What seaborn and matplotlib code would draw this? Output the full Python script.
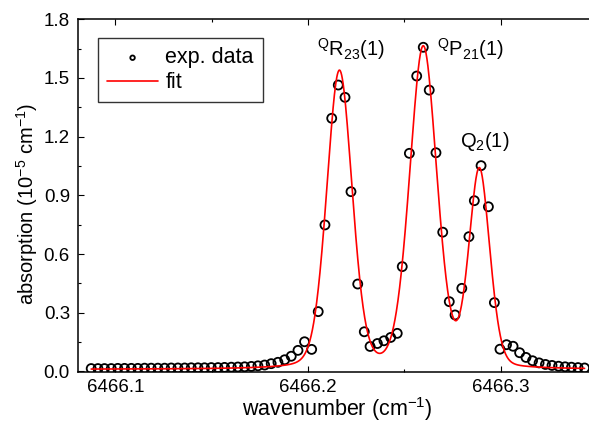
import numpy as np
import pandas as pd
import seaborn as sns
import matplotlib
matplotlib.use("Agg")
import matplotlib.pyplot as plt
from matplotlib.ticker import MultipleLocator, FormatStrFormatter

# Measured spectrum (wavenumber in cm^-1, absorption in 1e-5 cm^-1)
wavenumber = [
    6466.0875, 6466.0910, 6466.0944, 6466.0979, 6466.1013, 6466.1048, 6466.1083,
    6466.1117, 6466.1152, 6466.1186, 6466.1221, 6466.1256, 6466.1290, 6466.1325,
    6466.1360, 6466.1394, 6466.1429, 6466.1463, 6466.1498, 6466.1533, 6466.1567,
    6466.1602, 6466.1636, 6466.1671, 6466.1706, 6466.1740, 6466.1775, 6466.1809,
    6466.1844, 6466.1879, 6466.1913, 6466.1948, 6466.1982,
    6466.2019, 6466.2053, 6466.2088, 6466.2123, 6466.2157, 6466.2192, 6466.2223,
    6466.2258, 6466.2292, 6466.2322, 6466.2360, 6466.2394, 6466.2429, 6466.2463,
    6466.2489, 6466.2526, 6466.2564, 6466.2598, 6466.2629, 6466.2664, 6466.2699,
    6466.2733, 6466.2763, 6466.2798, 6466.2835, 6466.2863, 6466.2898, 6466.2936,
    6466.2967,
    6466.2996, 6466.3030, 6466.3064, 6466.3098, 6466.3131, 6466.3165, 6466.3199,
    6466.3232, 6466.3266, 6466.3300, 6466.3334, 6466.3367, 6466.3401, 6466.3435,
]
absorption = [
    0.015, 0.015, 0.015, 0.015, 0.016, 0.016, 0.016,
    0.016, 0.017, 0.017, 0.017, 0.017, 0.018, 0.018,
    0.018, 0.019, 0.019, 0.019, 0.020, 0.020, 0.021,
    0.022, 0.023, 0.024, 0.026, 0.029, 0.033, 0.040,
    0.047, 0.060, 0.078, 0.108, 0.152,
    0.113, 0.306, 0.749, 1.294, 1.464, 1.401, 0.919,
    0.447, 0.203, 0.128, 0.143, 0.157, 0.174, 0.195,
    0.536, 1.115, 1.510, 1.657, 1.438, 1.118, 0.712,
    0.357, 0.289, 0.425, 0.689, 0.873, 1.052, 0.842,
    0.352,
    0.114, 0.137, 0.129, 0.096, 0.072, 0.055, 0.044,
    0.036, 0.031, 0.027, 0.024, 0.022, 0.020, 0.018,
]

# Fitted model: three lines, each a Gaussian/Lorentzian mix, on a flat baseline
line_labels = [
    r"$^{\mathregular{Q}}$R$_{\mathregular{23}}$(1)",
    r"$^{\mathregular{Q}}$P$_{\mathregular{21}}$(1)",
    r"Q$_{\mathregular{2}}$(1)",
]
line_center = [6466.2163, 6466.2598, 6466.2889]
line_amp = [1.52, 1.64, 1.01]
line_sigma = [0.0067, 0.0073, 0.0056]
line_gamma = [0.0070, 0.0070, 0.0052]
lorentz_frac = 0.2
fit_baseline = 0.011

label_x = [6466.2045, 6466.2668, 6466.2789]
label_y = [1.612, 1.612, 1.149]


def line_profile(x, c, a, s, g):
    d = x - c
    gauss = np.exp(-0.5 * (d / s) ** 2)
    lorentz = 1.0 / (1.0 + (d / g) ** 2)
    return a * ((1 - lorentz_frac) * gauss + lorentz_frac * lorentz)


fit_x = np.linspace(wavenumber[0], wavenumber[-1], 1500)
fit_y = np.full_like(fit_x, fit_baseline)
for c, a, s, g in zip(line_center, line_amp, line_sigma, line_gamma):
    fit_y += line_profile(fit_x, c, a, s, g)

data = pd.DataFrame({"wavenumber": wavenumber, "absorption": absorption})
fit = pd.DataFrame({"wavenumber": fit_x, "absorption": fit_y})

sns.set_style("ticks")
plt.rcParams["font.family"] = ["Liberation Sans", "DejaVu Sans"]
plt.rcParams["mathtext.fontset"] = "custom"
plt.rcParams["mathtext.rm"] = "Liberation Sans"
plt.rcParams["mathtext.it"] = "Liberation Sans:italic"
plt.rcParams["text.color"] = "black"
plt.rcParams["axes.labelcolor"] = "black"
plt.rcParams["xtick.color"] = "black"
plt.rcParams["ytick.color"] = "black"

fig = plt.figure(figsize=(5.89, 4.23), dpi=100)
ax = fig.add_axes([0.1329, 0.1199, 0.8671, 0.8345])

sns.scatterplot(data=data, x="wavenumber", y="absorption", ax=ax,
                marker="o", s=42, facecolor="none", edgecolor="black",
                linewidth=1.3, label="exp. data", zorder=2)
sns.lineplot(data=fit, x="wavenumber", y="absorption", ax=ax,
             color="#ff0000", linewidth=1.2, label="fit", zorder=3,
             estimator=None)

for txt, lx, ly in zip(line_labels, label_x, label_y):
    ax.text(lx, ly, txt, fontsize=14.5, ha="left", va="baseline", color="black")

ax.set_xlim(6466.0808, 6466.3458)
ax.set_ylim(-0.004, 1.8)
ax.xaxis.set_major_locator(MultipleLocator(0.1))
ax.xaxis.set_minor_locator(MultipleLocator(0.05))
ax.yaxis.set_major_locator(MultipleLocator(0.3))
ax.yaxis.set_minor_locator(MultipleLocator(0.15))
ax.xaxis.set_major_formatter(FormatStrFormatter("%.1f"))
ax.yaxis.set_major_formatter(FormatStrFormatter("%.1f"))

ax.tick_params(which="both", direction="in", top=True, right=False,
               width=0.8, color="black", labelcolor="black", labelsize=13.5)
ax.tick_params(which="major", length=4.5)
ax.tick_params(which="minor", length=2.5)
ax.tick_params(axis="x", pad=5)
ax.tick_params(axis="y", pad=6)

for side in ("left", "bottom", "top"):
    ax.spines[side].set_linewidth(1.1)
    ax.spines[side].set_color("black")
ax.spines["right"].set_visible(False)

ax.set_xlabel(r"wavenumber (cm$^{\mathregular{-1}}$)", fontsize=15.5,
              va="center", color="black")
ax.set_ylabel(r"absorption (10$^{\mathregular{-5}}$ cm$^{\mathregular{-1}}$)",
              fontsize=14.5, va="center", color="black")
ax.xaxis.set_label_coords(0.5066, -0.103)
ax.yaxis.set_label_coords(-0.1005, 0.476)

handles, labels = ax.get_legend_handles_labels()
leg = ax.legend(handles, labels, loc="upper left",
                bbox_to_anchor=(0.038, 0.946), borderaxespad=0,
                fontsize=15.5, markerscale=0.5, handlelength=2.4,
                handletextpad=0.32, borderpad=0.42, labelspacing=0.18,
                fancybox=False, framealpha=1, edgecolor="#333333")
leg.get_frame().set_linewidth(1.0)
for t in leg.get_texts():
    t.set_color("black")

fig.savefig("out.png", dpi=100)
